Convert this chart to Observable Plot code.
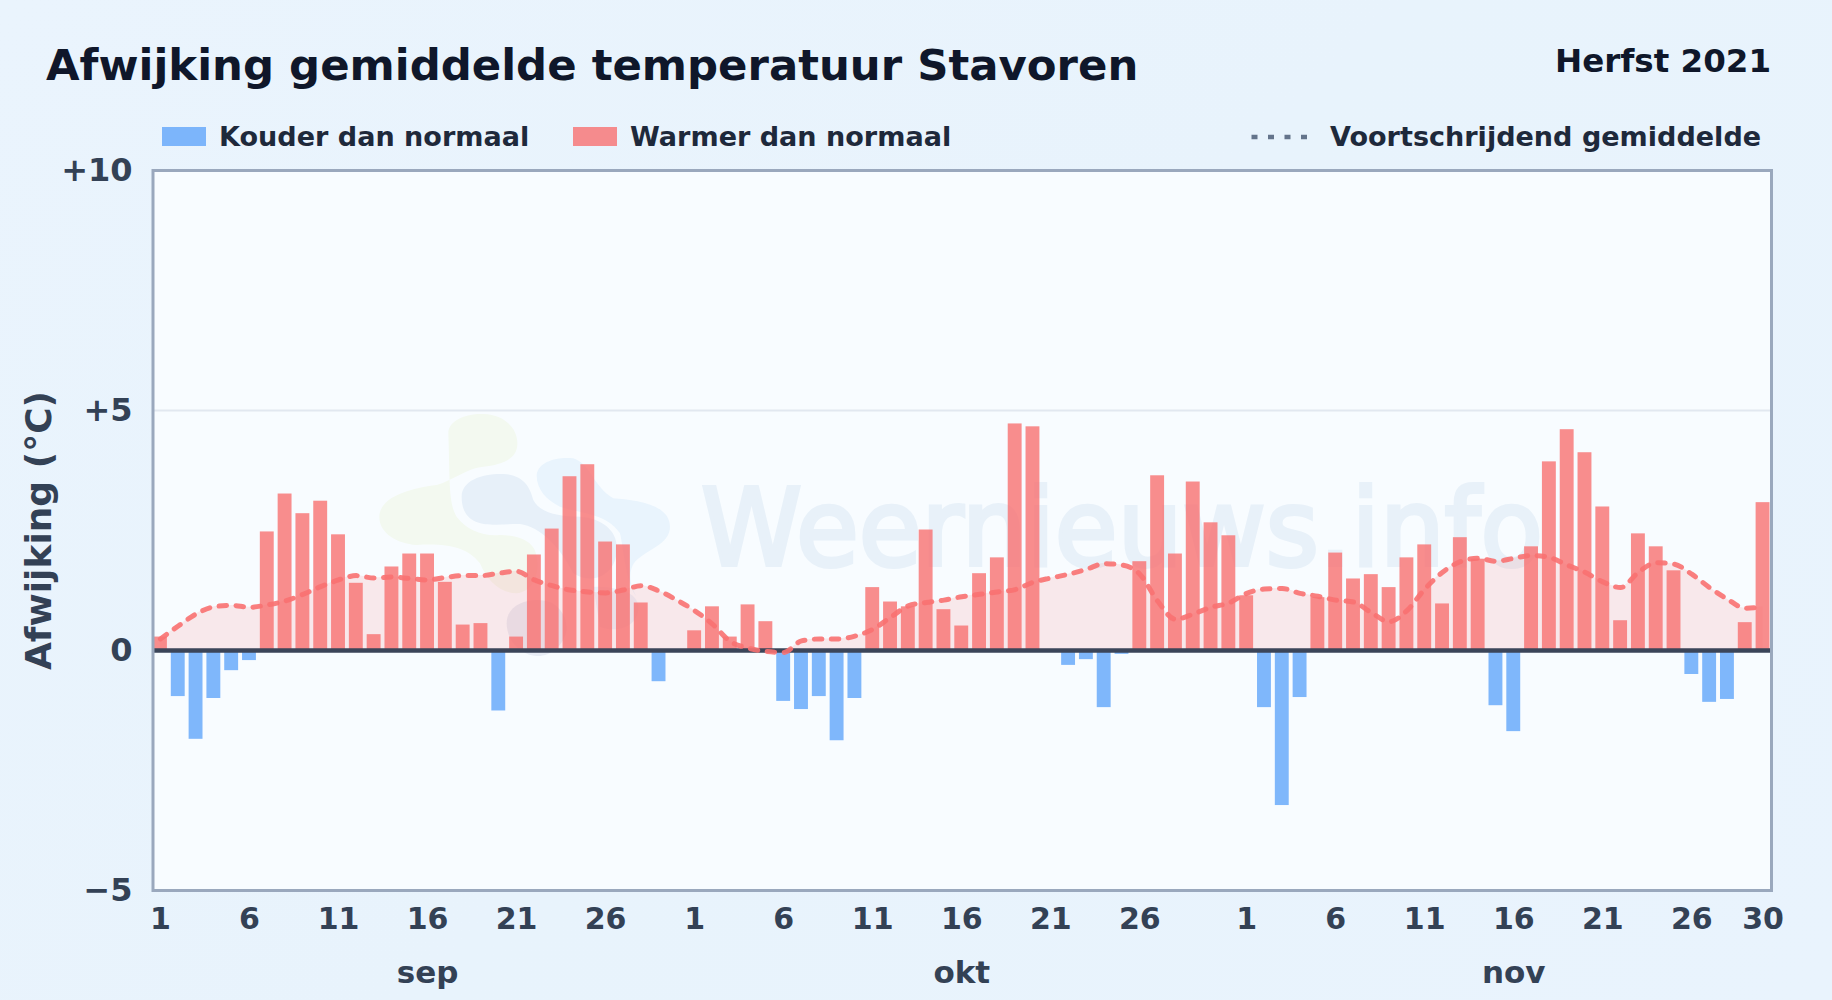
<!DOCTYPE html>
<html lang="nl">
<head>
<meta charset="utf-8">
<title>Afwijking gemiddelde temperatuur Stavoren</title>
<script src="https://cdn.jsdelivr.net/npm/d3@7"></script>
<script src="https://cdn.jsdelivr.net/npm/@observablehq/plot@0.6"></script>
<style>
  html,body{margin:0;padding:0;width:1832px;height:1000px;overflow:hidden;background:linear-gradient(135deg,#eaf4fd 0%,#e8f3fc 50%,#e9f3fd 100%);font-family:"DejaVu Sans",sans-serif;font-weight:700;}
  #head{position:relative;height:150px;width:1832px;}
  #head > *{position:absolute;white-space:nowrap;}
  #title{left:46px;top:36.5px;font-size:43.4px;line-height:56px;color:#0f172a;}
  #season{right:61px;top:39px;font-size:32.5px;line-height:44px;color:#0f172a;}
  .lg{top:120px;font-size:27.05px;line-height:34px;color:#1e293b;}
  .sw{top:127px;width:44px;height:19px;opacity:.8;}
  svg#dots{left:1251px;top:133px;}
  #chart svg{display:block;}
</style>
</head>
<body>
<div id="head">
  <div id="title">Afwijking gemiddelde temperatuur Stavoren</div>
  <div id="season">Herfst 2021</div>
  <div class="sw" style="left:162px;background:#60a5fa"></div>
  <div class="lg" style="left:219px">Kouder dan normaal</div>
  <div class="sw" style="left:573px;background:#f87171"></div>
  <div class="lg" style="left:630px">Warmer dan normaal</div>
  <svg id="dots" width="58" height="8"><line x1="0.5" x2="58" y1="4" y2="4" stroke="#64748b" stroke-width="4.5" stroke-dasharray="6,10.5"/></svg>
  <div class="lg" style="left:1330px">Voortschrijdend gemiddelde</div>
</div>
<div id="chart"></div>
<script>
const monthNames = ["sep", "okt", "nov"];
const monthLengths = [30, 31, 30];

const sepDeviation = [0.28,-0.96,-1.85,-1.0,-0.42,-0.21,2.47,3.26,2.85,3.11,2.41,1.40,0.33,1.74,2.01,2.01,1.42,0.53,0.56,-1.26,0.28,1.99,2.53,3.62,3.87,2.26,2.20,0.99,-0.65,0];
const oktDeviation = [0.41,0.91,0.28,0.95,0.60,-1.06,-1.23,-0.96,-1.88,-1.0,1.31,1.01,0.91,2.51,0.85,0.51,1.60,1.93,4.72,4.66,0,-0.31,-0.19,-1.19,-0.08,1.85,3.64,2.01,3.51,2.66,2.39];
const novDeviation = [1.14,-1.19,-3.23,-0.98,1.10,2.03,1.49,1.58,1.31,1.93,2.20,0.97,2.35,1.90,-1.15,-1.69,2.16,3.93,4.60,4.12,2.99,0.62,2.43,2.16,1.66,-0.50,-1.08,-1.02,0.58,3.08];

const sepAverage = [0.24,0.51,0.76,0.91,0.94,0.90,0.95,1.03,1.17,1.33,1.47,1.56,1.51,1.53,1.50,1.47,1.52,1.56,1.56,1.61,1.65,1.47,1.35,1.26,1.22,1.20,1.26,1.35,1.24,1.05];
const oktAverage = [0.83,0.55,0.19,0.05,-0.02,-0.04,0.20,0.24,0.24,0.30,0.44,0.69,0.93,1.0,1.05,1.12,1.17,1.22,1.27,1.42,1.51,1.59,1.69,1.81,1.78,1.59,1.03,0.65,0.76,0.90,0.99];
const novAverage = [1.19,1.28,1.29,1.19,1.13,1.05,1.01,0.79,0.60,0.83,1.28,1.63,1.85,1.92,1.86,1.92,1.98,1.94,1.78,1.63,1.43,1.31,1.63,1.83,1.80,1.59,1.31,1.07,0.88,0.91];

const dayTicks = [1, 6, 11, 16, 21, 26];
const yTicks = [10, 5, 0, -5];
const yLabel = "Afwijking (°C)";

const deviations = [sepDeviation, oktDeviation, novDeviation];
const averages = [sepAverage, oktAverage, novAverage];
const rows = monthNames.flatMap((m, i) =>
  d3.range(monthLengths[i]).map(j => ({
    key: `${m}-${j + 1}`, month: m, day: j + 1,
    value: deviations[i][j], avg: averages[i][j]
  })));
const keys = rows.map(d => d.key);
const dayKeys = [...monthNames.flatMap(m => dayTicks.map(d => `${m}-${d}`)), "nov-30"];
const monthKeys = ["sep-16", "okt-16", "nov-16"];

const FONT = '"DejaVu Sans", sans-serif';

function watermark() {
  const g = d3.create("svg:g");
  const logo = g.append("g").attr("transform", "translate(360,250) scale(0.3333)");
  const blob = (d, fill) => logo.append("path").attr("d", d).attr("fill", fill);
  blob("M265,100 C265,60 320,40 370,42 C440,45 475,90 472,135 C470,180 420,195 370,200 C320,205 280,240 230,255 C150,265 60,290 58,350 C58,400 110,430 170,435 C260,430 320,440 360,490 C380,540 420,580 470,580 C520,575 540,520 530,470 C525,420 470,405 420,405 C370,410 320,390 290,350 C265,310 270,240 265,100 Z", "#f3f9f0");
  blob("M530,225 C535,185 590,170 640,175 C690,190 700,260 760,295 C820,300 930,310 930,380 C930,430 870,445 830,480 C800,510 810,560 830,590 C800,560 790,440 780,400 C740,340 660,340 600,320 C560,300 530,270 530,225 Z", "#e9f4fd");
  blob("M305,290 C305,240 370,220 430,222 C490,225 510,260 520,300 C540,340 600,350 660,350 C730,355 775,395 770,450 C770,520 700,560 640,520 C600,440 540,380 480,372 C420,370 305,400 305,290 Z", "#e7f0f9");
  blob("M440,670 C440,620 490,600 530,600 C590,600 620,640 620,690 C610,740 570,770 530,768 C480,765 440,720 440,670 Z", "#e7ecf5");
  blob("M700,560 C760,560 840,570 835,630 C830,680 770,700 720,680 Z", "#e9f2fb");
  g.append("text").text("Weernieuws.info")
    .attr("x", 701).attr("y", 415).attr("text-anchor", "start")
    .attr("font-family", FONT).attr("font-size", 107).attr("font-weight", 400)
    .attr("textLength", 842).attr("lengthAdjust", "spacingAndGlyphs")
    .attr("fill", "#e8f1f9").attr("stroke", "#e8f1f9").attr("stroke-width", 4);
  return g.node();
}

const plot = Plot.plot({
  width: 1832,
  height: 850,
  marginTop: 20,
  marginBottom: 110,
  marginLeft: 153,
  marginRight: 62.5,
  style: {background: "transparent", fontFamily: FONT, overflow: "visible"},
  x: {type: "band", domain: keys, paddingInner: 0.22, paddingOuter: 0, label: null},
  y: {domain: [-5, 10], label: null},
  marks: [
    Plot.frame({fill: "#f8fcff", stroke: "none", insetRight: -1.5}),
    watermark,
    Plot.ruleY([5], {stroke: "#e2e8f0", strokeWidth: 2, insetRight: -1.5}),
    Plot.areaY(rows, {x: "key", y1: 0, y2: "avg", fill: "#f87171", fillOpacity: 0.14, curve: "monotone-x"}),
    Plot.barY(rows.filter(d => d.value >= 0), {x: "key", y: "value", fill: "#f87171", fillOpacity: 0.8}),
    Plot.barY(rows.filter(d => d.value < 0), {x: "key", y: "value", fill: "#60a5fa", fillOpacity: 0.8}),
    Plot.ruleY([0], {stroke: "#3b4559", strokeWidth: 4.5, insetRight: -1.5}),
    Plot.line(rows, {x: "key", y: "avg", stroke: "#f87171", strokeWidth: 5, strokeOpacity: 0.9, strokeDasharray: "7.5,9.5", strokeLinecap: "round", curve: "monotone-x"}),
    Plot.frame({stroke: "#9aa8bd", strokeWidth: 3, insetLeft: -0.5, insetRight: -1.5}),
    Plot.axisY({
      ticks: yTicks, tickSize: 0, tickPadding: 21,
      tickFormat: d => d > 0 ? `+${d}` : d < 0 ? `\u2212${-d}` : "0",
      fontSize: 32, fontWeight: 700, fill: "#334155", label: null
    }),
    Plot.axisY({
      ticks: [], label: yLabel, labelAnchor: "center", labelArrow: "none", labelOffset: 128,
      fontSize: 36, fontWeight: 700, fill: "#334155"
    }),
    Plot.axisX({
      ticks: dayKeys, tickSize: 0, tickPadding: 17.5,
      tickFormat: k => k.split("-")[1],
      fontSize: 30, fontWeight: 700, fill: "#334155", label: null
    }),
    Plot.axisX({
      ticks: monthKeys, tickSize: 0, tickPadding: 70.5,
      tickFormat: k => k.split("-")[0],
      fontSize: 31, fontWeight: 700, fill: "#334155", label: null
    })
  ]
});
document.getElementById("chart").appendChild(plot);
</script>
</body>
</html>
